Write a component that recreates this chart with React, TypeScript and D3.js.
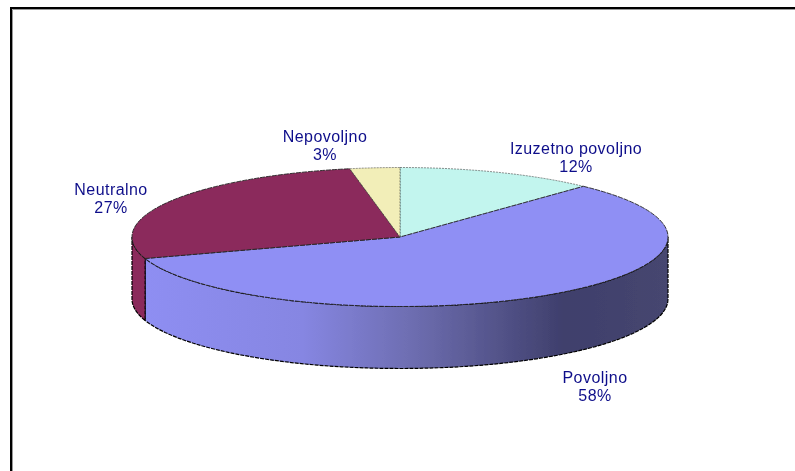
import React, { useMemo } from 'react';
import * as d3 from 'd3';

const categories = ['Izuzetno povoljno', 'Povoljno', 'Neutralno', 'Nepovoljno'];
const shares = [12, 58, 27, 3];
const sliceColors = ['#c2f5ee', '#8f8ff4', '#8b2c5c', '#f2eeb8'];

const WIDTH = 795;
const HEIGHT = 471;
const cx = 400;
const cy = 237;
const rx = 268;
const ry = 69.5;
const depth = 62;
const FONT = '"Liberation Sans", Arial, sans-serif';

// label centres and first baselines, placed by hand like the original
const labelPlaces: Record<string, [number, number]> = {
  'Izuzetno povoljno': [576, 154],
  Povoljno: [595, 383],
  Neutralno: [111, 195],
  Nepovoljno: [325, 142],
};

const sideStops: [number, string][] = [
  [0, '#8e8ef2'],
  [0.3, '#8686e2'],
  [0.52, '#6c6cae'],
  [0.8, '#3f3f6c'],
  [1, '#46466f'],
];

const project = (a: number, drop = 0): [number, number] => [
  cx + rx * Math.sin(a),
  cy - ry * Math.cos(a) + drop,
];

const App: React.FC = () => {
  const slices = useMemo(() => {
    const pie = d3.pie<number>().value((d: number) => d).sort(null);
    return pie(shares);
  }, []);

  const line = d3.line<[number, number]>();
  const top = d3.arc<d3.PieArcDatum<number>>().innerRadius(0).outerRadius(rx);

  // front wall of a slice: only the part of it between 90 and 270 degrees shows
  const wall = (s: d3.PieArcDatum<number>) => {
    const a0 = Math.max(s.startAngle, Math.PI / 2);
    const a1 = Math.min(s.endAngle, (3 * Math.PI) / 2);
    if (a1 <= a0) return null;
    const angles = d3.range(0, 61).map((i: number) => a0 + ((a1 - a0) * i) / 60);
    const pts = [
      ...angles.map((a: number) => project(a)),
      ...angles.slice().reverse().map((a: number) => project(a, depth)),
    ];
    return line(pts) + 'Z';
  };

  return (
    <svg
      width={WIDTH}
      height={HEIGHT}
      style={{ position: 'absolute', left: 0, top: 0, background: '#fff' }}
    >
      <defs>
        <linearGradient id="side" gradientUnits="userSpaceOnUse" x1={146} x2={668} y1={0} y2={0}>
          {sideStops.map(([o, c]) => (
            <stop key={o} offset={o} stopColor={c} />
          ))}
        </linearGradient>
        <filter id="soft" x="-5%" y="-5%" width="110%" height="110%">
          <feGaussianBlur stdDeviation="0.3" />
        </filter>
      </defs>

      <path d={`M11 ${HEIGHT}V8H${WIDTH}`} fill="none" stroke="#000" strokeWidth={2} />
      <path d={`M12.5 ${HEIGHT}V9.5H${WIDTH}`} fill="none" stroke="#999" strokeWidth={1} />

      <g filter="url(#soft)">
        {slices.map((s: d3.PieArcDatum<number>, i: number) => {
          const d = wall(s);
          if (!d) return null;
          return (
            <path
              key={categories[i]}
              d={d}
              fill={i === 1 ? 'url(#side)' : sliceColors[i]}
              stroke="#000"
              strokeWidth={1.2}
              strokeDasharray="4 1"
            />
          );
        })}
        <g transform={`translate(${cx},${cy}) scale(1,${ry / rx})`}>
          {slices.map((s: d3.PieArcDatum<number>, i: number) => (
            <path
              key={categories[i]}
              d={top(s) as string}
              fill={sliceColors[i]}
              stroke="#222"
              strokeWidth={1}
              vectorEffect="non-scaling-stroke"
              strokeDasharray={i === 0 || i === 3 ? '2 1' : '5 1'}
              strokeOpacity={i === 0 || i === 3 ? 0.5 : 0.9}
            />
          ))}
        </g>
      </g>

      <g
        fontFamily={FONT}
        fontSize={16}
        fill="#10108a"
        textAnchor="middle"
        letterSpacing={0.45}
        filter="url(#soft)"
      >
        {categories.map((c, i) => (
          <text key={c} x={labelPlaces[c][0]} y={labelPlaces[c][1]}>
            <tspan x={labelPlaces[c][0]}>{c}</tspan>
            <tspan x={labelPlaces[c][0]} dy={18}>
              {d3.format('d')(shares[i])}%
            </tspan>
          </text>
        ))}
      </g>
    </svg>
  );
};

export default App;
